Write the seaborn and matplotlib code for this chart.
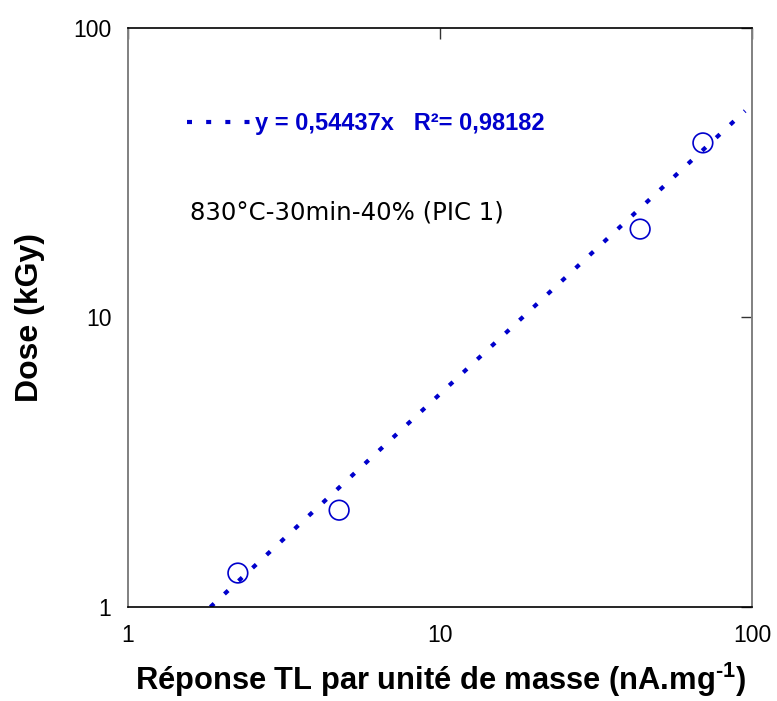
import numpy as np
import pandas as pd
import matplotlib
matplotlib.use("Agg")
import matplotlib.pyplot as plt
import seaborn as sns

# Data
response = [2.25, 4.75, 43.8, 69.6]      # nA.mg-1
dose = [1.31, 2.16, 20.2, 40.1]          # kGy
slope = 0.54437
r2 = 0.98182
fit_x = [1.837, 95.0]
fit_y = [slope * v for v in fit_x]

x_ticks = [1, 10, 100]
y_ticks = [1, 10, 100]
x_tick_labels = ["1", "10", "100"]
y_tick_labels = ["1", "10", "100"]

sns.set_theme(style="white")
plt.rcParams["font.family"] = ["Liberation Sans", "DejaVu Sans"]
plt.rcParams["mathtext.fontset"] = "custom"
plt.rcParams["mathtext.rm"] = "Liberation Sans"
plt.rcParams["mathtext.bf"] = "Liberation Sans:bold"

blue = "#0000CC"

fig = plt.figure(figsize=(7.77, 7.01), dpi=100)
ax = fig.add_axes([128 / 777, 1 - 607 / 701, 624 / 777, 579 / 701])

df_pts = pd.DataFrame({"x": response, "y": dose})
df_fit = pd.DataFrame({"x": fit_x, "y": fit_y})

label = f"y = {slope:.5f}x   R² = {r2:.5f}".replace(".", ",").replace("R² =", "R²=")
sns.lineplot(data=df_fit, x="x", y="y", ax=ax, color=blue, lw=3.0,
             linestyle=(0, (1.2, 3.4)), dash_capstyle="butt", label=label)
sns.scatterplot(data=df_pts, x="x", y="y", ax=ax, marker="o", s=200,
                facecolor="none", edgecolor=blue, linewidth=1.2, zorder=3)

ax.set_xscale("log")
ax.set_yscale("log")
ax.set_xlim(1, 100)
ax.set_ylim(1, 100)
ax.set_xticks(x_ticks)
ax.set_xticklabels(x_tick_labels)
ax.set_yticks(y_ticks)
ax.set_yticklabels(y_tick_labels)
ax.minorticks_off()
ax.tick_params(axis="both", which="major", direction="in", length=8, width=1,
               labelsize=16.5, top=True, right=True, color="#333333",
               labelcolor="black", pad=12)

for side in ["top", "bottom"]:
    ax.spines[side].set_color("black")
    ax.spines[side].set_linewidth(1.2)
for side in ["left", "right"]:
    ax.spines[side].set_color("#808080")
    ax.spines[side].set_linewidth(1.4)

ax.set_xlabel("Réponse TL par unité de masse (nA.mg$^{\\mathbf{\u20101}}$)",
              fontsize=22.2, fontweight="bold", labelpad=10, color="black")
ax.set_ylabel("Dose (kGy)", fontsize=23, fontweight="bold", labelpad=20, color="black")

leg = ax.legend(loc="center left", bbox_to_anchor=((187 - 128) / 624, (607 - 124) / 579),
                frameon=False, fontsize=17, handlelength=2.7, handletextpad=0.2,
                borderpad=0, borderaxespad=0)
for t in leg.get_texts():
    t.set_color(blue)
    t.set_fontweight("bold")

ax.text((190 - 128) / 624, (607 - 213) / 579, "830°C-30min-40% (PIC 1)",
        transform=ax.transAxes, fontsize=17.6, family="DejaVu Sans",
        color="black", va="center", ha="left")

fig.savefig("out.png", dpi=100)
